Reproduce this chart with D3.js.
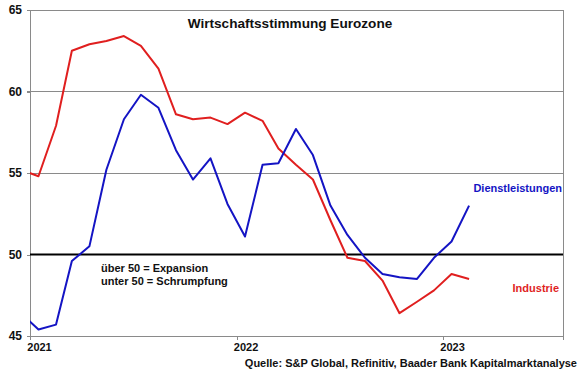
<!DOCTYPE html>
<html>
<head>
<meta charset="utf-8">
<script src="https://cdn.jsdelivr.net/npm/d3@7"></script>
<style>
  html, body { margin: 0; padding: 0; background: #ffffff; }
  svg { display: block; font-family: "Liberation Sans", Arial, sans-serif; }
</style>
</head>
<body>
<svg id="chart" width="580" height="375"></svg>
<script>
// ---- data ----
const months = ["2020-12","2021-01","2021-02","2021-03","2021-04","2021-05","2021-06","2021-07","2021-08","2021-09","2021-10","2021-11","2021-12",
                "2022-01","2022-02","2022-03","2022-04","2022-05","2022-06","2022-07","2022-08","2022-09","2022-10","2022-11","2022-12",
                "2023-01","2023-02"];
const industrie = [55.2,54.8,57.9,62.5,62.9,63.1,63.4,62.8,61.4,58.6,58.3,58.4,58.0,
                   58.7,58.2,56.5,55.5,54.6,52.1,49.8,49.6,48.4,46.4,47.1,47.8,
                   48.8,48.5];
const dienstleistungen = [46.4,45.4,45.7,49.6,50.5,55.2,58.3,59.8,59.0,56.4,54.6,55.9,53.1,
                          51.1,55.5,55.6,57.7,56.1,53.0,51.2,49.8,48.8,48.6,48.5,49.8,
                          50.8,53.0];
const yTicks = [45, 50, 55, 60, 65];
const xTickYears = ["2021", "2022", "2023"];
const title = "Wirtschaftsstimmung Eurozone";
const source = "Quelle: S&P Global, Refinitiv, Baader Bank Kapitalmarktanalyse";
const note1 = "über 50 = Expansion";
const note2 = "unter 50 = Schrumpfung";

// ---- layout ----
const svg = d3.select("#chart");
const L = 30, R = 563, T = 10, B = 336;
const parse = d3.utcParse("%Y-%m-%d");
const x = d3.scaleUtc().domain([parse("2021-01-01"), parse("2023-08-01")]).range([L, R]);
const y = d3.scaleLinear().domain([45, 65]).range([B, T]);
const pt = m => parse(m + "-16");

const red = "#e01f1f", blue = "#1414c4", grid = "#8a8a8a";

// gridlines
svg.append("g").selectAll("line").data(yTicks.filter(v => v !== 50 && v !== 45)).join("line")
  .attr("x1", L - 3).attr("x2", R)
  .attr("y1", d => y(d)).attr("y2", d => y(d))
  .attr("stroke", grid).attr("stroke-width", 1).attr("shape-rendering", "crispEdges");

// right border
svg.append("line").attr("x1", R).attr("x2", R).attr("y1", T).attr("y2", B)
  .attr("stroke", grid).attr("shape-rendering", "crispEdges");

// y axis
const yAxis = d3.axisLeft(y).tickValues(yTicks).tickSize(3).tickPadding(5).tickFormat(d3.format("d"));
const gy = svg.append("g").attr("transform", `translate(${L},0)`).call(yAxis);
gy.select(".domain").attr("stroke", grid).attr("shape-rendering", "crispEdges");
gy.selectAll(".tick line").attr("stroke", grid).attr("shape-rendering", "crispEdges");
gy.selectAll(".tick text").attr("font-size", 12).attr("font-weight", "bold")
  .attr("font-family", "Liberation Sans, Arial, sans-serif").attr("fill", "#111");

// x axis
const xAxis = d3.axisBottom(x).tickValues(xTickYears.map(s => parse(s + "-01-01")))
  .tickSize(4).tickPadding(3).tickFormat(d3.utcFormat("%Y"));
const gx = svg.append("g").attr("transform", `translate(0,${B})`).call(xAxis);
gx.select(".domain").attr("stroke", grid).attr("shape-rendering", "crispEdges");
gx.selectAll(".tick line").attr("stroke", grid).attr("shape-rendering", "crispEdges");
gx.selectAll(".tick text").attr("font-size", 11).attr("font-weight", "bold")
  .attr("font-family", "Liberation Sans, Arial, sans-serif").attr("fill", "#111")
  .attr("dx", 9);

// 50 line
svg.append("line").attr("x1", L).attr("x2", R).attr("y1", y(50)).attr("y2", y(50))
  .attr("stroke", "#000").attr("stroke-width", 2);

// clip
svg.append("clipPath").attr("id", "clip").append("rect")
  .attr("x", L).attr("y", T).attr("width", R - L).attr("height", B - T);

const line = d3.line().x(d => x(pt(d.m))).y(d => y(d.v));
const mk = arr => months.map((m, i) => ({ m, v: arr[i] }));

svg.append("path").datum(mk(industrie)).attr("clip-path", "url(#clip)")
  .attr("d", line).attr("fill", "none").attr("stroke", red).attr("stroke-width", 2)
  .attr("stroke-linejoin", "round");
svg.append("path").datum(mk(dienstleistungen)).attr("clip-path", "url(#clip)")
  .attr("d", line).attr("fill", "none").attr("stroke", blue).attr("stroke-width", 2)
  .attr("stroke-linejoin", "round");

// texts
svg.append("text").attr("x", 290).attr("y", 28).attr("text-anchor", "middle")
  .attr("font-size", 13.6).attr("font-weight", "bold").attr("fill", "#111").text(title);
svg.append("text").attr("x", 101).attr("y", 272).attr("font-size", 11).attr("font-weight", "bold")
  .attr("fill", "#111").text(note1);
svg.append("text").attr("x", 101).attr("y", 285).attr("font-size", 11).attr("font-weight", "bold")
  .attr("fill", "#111").text(note2);
svg.append("text").attr("x", 562).attr("y", 192).attr("text-anchor", "end")
  .attr("font-size", 11).attr("font-weight", "bold").attr("fill", blue).text("Dienstleistungen");
svg.append("text").attr("x", 559).attr("y", 292).attr("text-anchor", "end")
  .attr("font-size", 11).attr("font-weight", "bold").attr("fill", red).text("Industrie");
svg.append("text").attr("x", 577).attr("y", 367).attr("text-anchor", "end")
  .attr("font-size", 11).attr("font-weight", "bold").attr("fill", "#111").text(source);
</script>
</body>
</html>
